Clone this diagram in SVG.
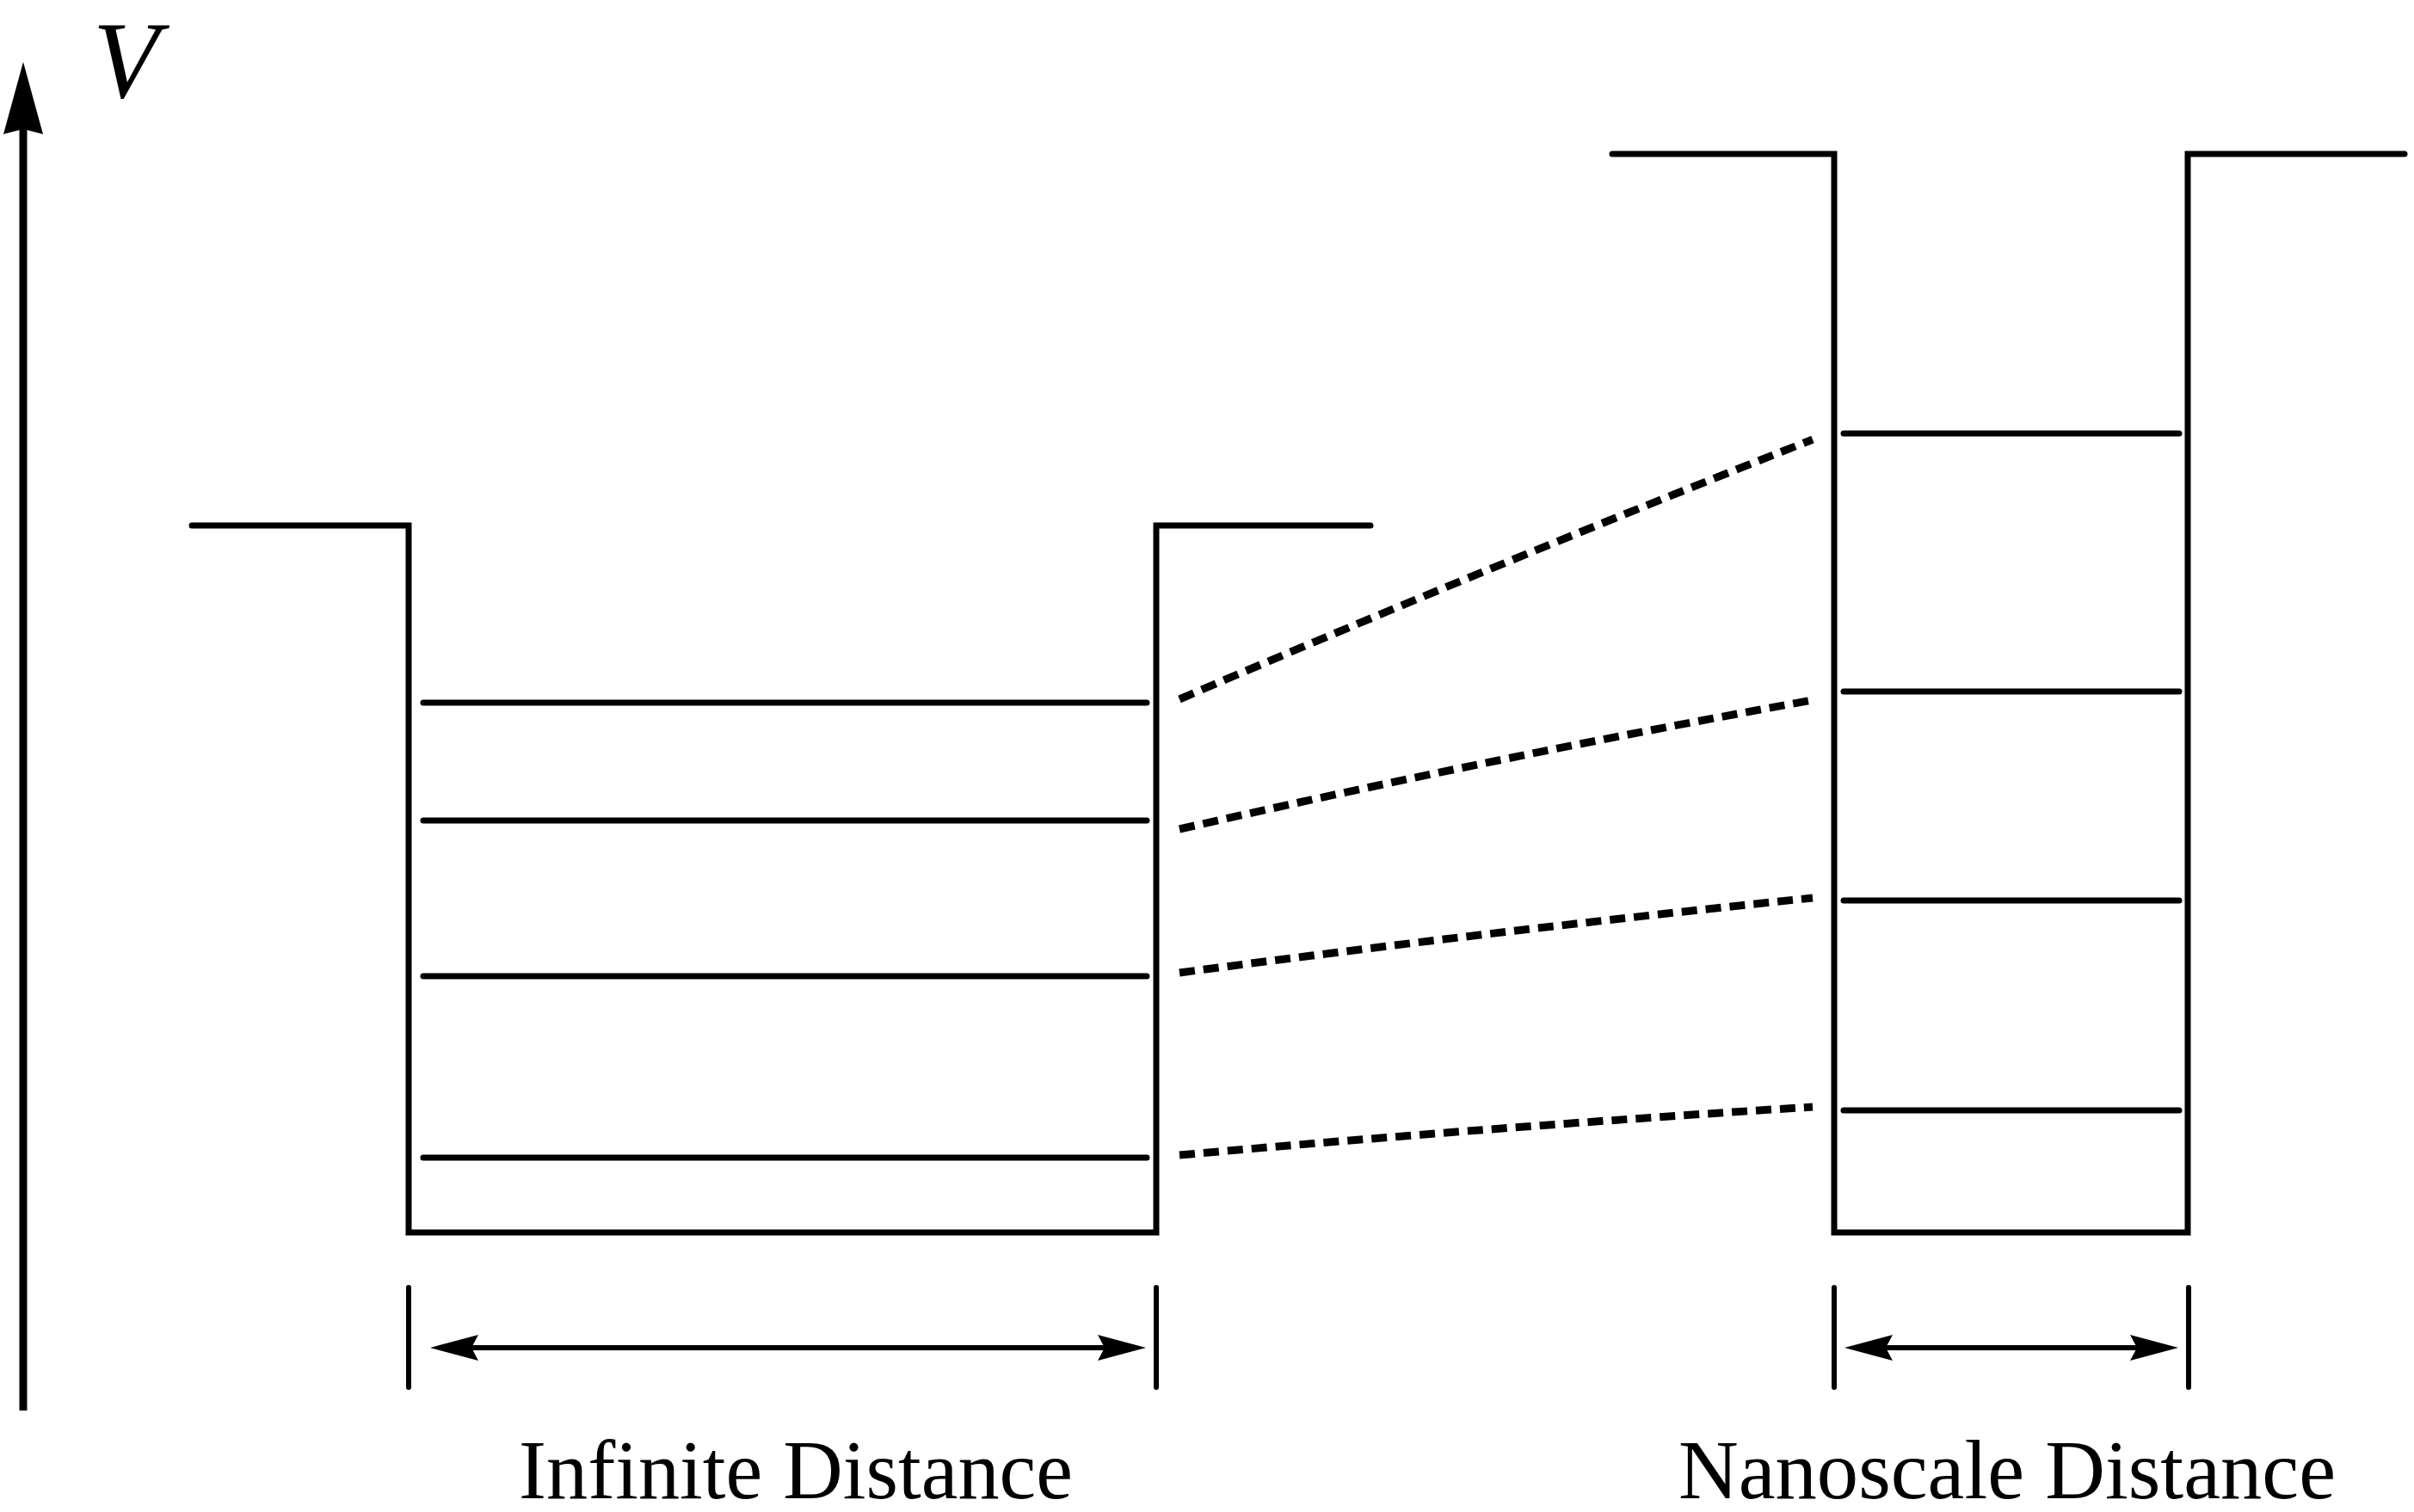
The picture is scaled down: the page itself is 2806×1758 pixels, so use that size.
<svg xmlns="http://www.w3.org/2000/svg" width="2806" height="1758" viewBox="0 0 2806 1758">
  <style>
    .wall { fill: none; stroke: #000; stroke-width: 7; stroke-linecap: round; stroke-linejoin: miter; }
    .level { stroke: #000; stroke-width: 7; stroke-linecap: round; }
    .dash { fill: none; stroke: #000; stroke-width: 9; stroke-dasharray: 18 10; }
    .tick { stroke: #000; stroke-width: 6; stroke-linecap: round; }
    .dim { stroke: #000; stroke-width: 6; }
    .axis { stroke: #000; stroke-width: 9; }
    .label { font-family: "Liberation Serif", "Times New Roman", serif; font-size: 98px; fill: #000; }
    .vlabel { font-family: "Liberation Serif", "Times New Roman", serif; font-size: 126px; font-style: italic; fill: #000; }
  </style>
  <defs>
    <marker id="dimArrow" viewBox="0 0 56 30" refX="16" refY="15" markerWidth="56" markerHeight="30" markerUnits="userSpaceOnUse" orient="auto-start-reverse">
      <path d="M56,15 L0,0 L8,15 L0,30 Z" fill="#000"/>
    </marker>
    <marker id="axisArrow" viewBox="0 0 84 46" refX="24" refY="23" markerWidth="84" markerHeight="46" markerUnits="userSpaceOnUse" orient="auto">
      <path d="M84,23 L0,0 L6,23 L0,46 Z" fill="#000"/>
    </marker>
  </defs>

  <g id="axis">
    <line class="axis" x1="27" y1="1640" x2="27" y2="132" marker-end="url(#axisArrow)"/>
    <text class="vlabel" x="108" y="113">V</text>
  </g>

  <g id="well-infinite">
    <path class="wall" d="M223,611 L475,611 L475,1433 L1344,1433 L1344,611 L1593,611"/>
    <line class="level" x1="492" y1="817" x2="1333" y2="817"/>
    <line class="level" x1="492" y1="954" x2="1333" y2="954"/>
    <line class="level" x1="492" y1="1135" x2="1333" y2="1135"/>
    <line class="level" x1="492" y1="1346" x2="1333" y2="1346"/>
  </g>

  <g id="well-nanoscale">
    <path class="wall" d="M1874,179 L2132,179 L2132,1433 L2543,1433 L2543,179 L2795,179"/>
    <line class="level" x1="2143" y1="504" x2="2533" y2="504"/>
    <line class="level" x1="2143" y1="804" x2="2533" y2="804"/>
    <line class="level" x1="2143" y1="1047" x2="2533" y2="1047"/>
    <line class="level" x1="2143" y1="1291" x2="2533" y2="1291"/>
  </g>

  <g id="connectors">
    <path class="dash" d="M1371,813 Q1740,655 2107,511"/>
    <path class="dash" d="M1371,964 Q1740,880 2107,814"/>
    <path class="dash" d="M1371,1131 Q1740,1082 2107,1044"/>
    <path class="dash" d="M1371,1343 Q1740,1310 2107,1287"/>
  </g>

  <g id="dim-infinite">
    <line class="tick" x1="475" y1="1497" x2="475" y2="1613"/>
    <line class="tick" x1="1344" y1="1497" x2="1344" y2="1613"/>
    <line class="dim" x1="540" y1="1567" x2="1292" y2="1567" marker-start="url(#dimArrow)" marker-end="url(#dimArrow)"/>
    <text class="label" x="603" y="1742" textLength="644" lengthAdjust="spacingAndGlyphs">Infinite Distance</text>
  </g>

  <g id="dim-nanoscale">
    <line class="tick" x1="2132" y1="1497" x2="2132" y2="1613"/>
    <line class="tick" x1="2544" y1="1497" x2="2544" y2="1613"/>
    <line class="dim" x1="2184" y1="1567" x2="2492" y2="1567" marker-start="url(#dimArrow)" marker-end="url(#dimArrow)"/>
    <text class="label" x="1951" y="1742" textLength="764" lengthAdjust="spacingAndGlyphs">Nanoscale Distance</text>
  </g>
</svg>
